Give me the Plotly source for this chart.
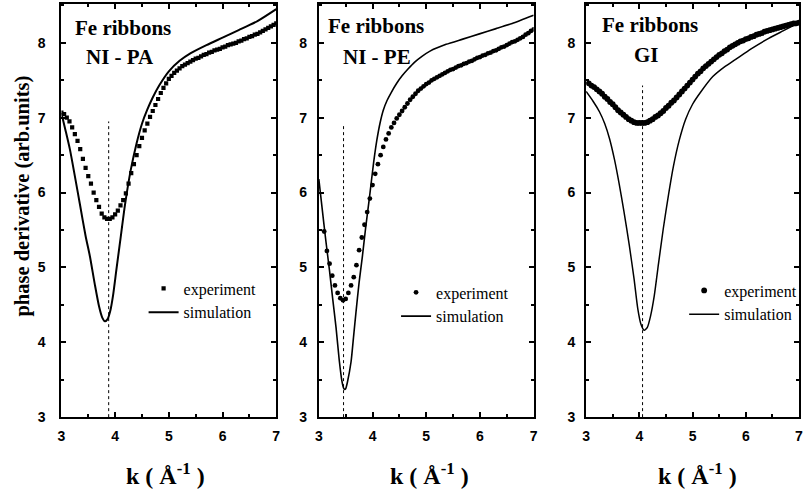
import plotly.graph_objects as go

# ---------------------------------------------------------------- data
# wave-vector grid of the measured phase-derivative curves (1/Angstrom)
k_exp = [3.00, 3.05, 3.10, 3.15, 3.20, 3.25, 3.30, 3.35, 3.40, 3.45,
         3.50, 3.55, 3.60, 3.65, 3.70, 3.75, 3.80, 3.85, 3.90, 3.95,
         4.00, 4.05, 4.10, 4.15, 4.20, 4.25, 4.30, 4.35, 4.40, 4.45,
         4.50, 4.55, 4.60, 4.65, 4.70, 4.75, 4.80, 4.85, 4.90, 4.95,
         5.00, 5.05, 5.10, 5.15, 5.20, 5.25, 5.30, 5.35, 5.40, 5.45,
         5.50, 5.55, 5.60, 5.65, 5.70, 5.75, 5.80, 5.85, 5.90, 5.95,
         6.00, 6.05, 6.10, 6.15, 6.20, 6.25, 6.30, 6.35, 6.40, 6.45,
         6.50, 6.55, 6.60, 6.65, 6.70, 6.75, 6.80, 6.85, 6.90, 6.95,
         7.00]

# NI - PA : experiment (k = 3.00 ... 7.00)
phi_exp_pa = [7.07, 7.05, 7.00, 6.95, 6.87, 6.78, 6.69, 6.58, 6.45, 6.33,
              6.22, 6.12, 6.00, 5.90, 5.81, 5.72, 5.67, 5.65, 5.65, 5.67,
              5.71, 5.76, 5.83, 5.90, 5.99, 6.12, 6.26, 6.38, 6.50, 6.62,
              6.73, 6.83, 6.92, 7.01, 7.09, 7.17, 7.25, 7.33, 7.40, 7.46,
              7.52, 7.56, 7.60, 7.63, 7.66, 7.69, 7.71, 7.73, 7.75, 7.77,
              7.79, 7.80, 7.82, 7.84, 7.85, 7.87, 7.88, 7.90, 7.91, 7.92,
              7.94, 7.95, 7.97, 7.98, 7.99, 8.00, 8.02, 8.03, 8.05, 8.06,
              8.08, 8.09, 8.11, 8.12, 8.14, 8.16, 8.18, 8.20, 8.22, 8.24,
              8.26]

# NI - PE : experiment (k = 3.10 ... 7.00)
phi_exp_pe = [5.48, 5.22, 5.05, 4.89, 4.76, 4.66, 4.59, 4.56, 4.58, 4.66,
              4.76, 4.87, 5.03, 5.23, 5.40, 5.57, 5.74, 5.92,
              6.10, 6.25, 6.38, 6.50, 6.61, 6.71, 6.79, 6.87, 6.93, 6.99,
              7.04, 7.09, 7.14, 7.19, 7.24, 7.28, 7.32, 7.36, 7.39, 7.42,
              7.45, 7.47, 7.50, 7.52, 7.54, 7.56, 7.58, 7.60, 7.62, 7.64,
              7.65, 7.67, 7.69, 7.70, 7.72, 7.73, 7.75, 7.76, 7.78, 7.80,
              7.81, 7.83, 7.84, 7.86, 7.87, 7.89, 7.90, 7.92, 7.94, 7.95,
              7.97, 7.99, 8.01, 8.02, 8.04, 8.06, 8.08, 8.11, 8.13, 8.16,
              8.18]

# GI : experiment (k = 3.05 ... 7.00)
phi_exp_gi = [7.46, 7.43, 7.41, 7.38, 7.35, 7.32, 7.28, 7.25, 7.21,
              7.18, 7.14, 7.10, 7.07, 7.04, 7.01, 6.98, 6.96, 6.94, 6.93,
              6.93, 6.93, 6.93, 6.94, 6.96, 6.98, 7.01, 7.03, 7.06, 7.09,
              7.13, 7.16, 7.20, 7.23, 7.27, 7.31, 7.35, 7.39, 7.43, 7.47,
              7.51, 7.55, 7.59, 7.62, 7.66, 7.69, 7.72, 7.75, 7.78, 7.81,
              7.84, 7.86, 7.89, 7.91, 7.94, 7.96, 7.98, 8.00, 8.02, 8.03,
              8.05, 8.06, 8.08, 8.09, 8.11, 8.12, 8.13, 8.15, 8.16, 8.17,
              8.18, 8.19, 8.20, 8.21, 8.22, 8.23, 8.24, 8.25, 8.26, 8.26,
              8.27]

# simulated curves
k_sim_pa = [3.00, 3.08, 3.16, 3.25, 3.35, 3.45, 3.53, 3.62, 3.70, 3.76,
            3.81, 3.86, 3.91, 3.96, 4.02, 4.09, 4.18, 4.29, 4.40, 4.50,
            4.60, 4.70, 4.82, 5.00, 5.20, 5.40, 5.70, 6.00, 6.30, 6.65,
            7.00]
phi_sim_pa = [7.06, 6.82, 6.57, 6.22, 5.82, 5.42, 5.15, 4.78, 4.48, 4.33,
              4.28, 4.31, 4.42, 4.62, 4.95, 5.33, 5.82, 6.30, 6.66, 6.92,
              7.11, 7.27, 7.43, 7.62, 7.76, 7.86, 7.97, 8.07, 8.17, 8.29,
              8.45]

k_sim_pe = [3.00, 3.06, 3.13, 3.20, 3.26, 3.32, 3.38, 3.43, 3.46, 3.48,
            3.50, 3.53, 3.60, 3.65, 3.69, 3.75, 3.81, 3.87, 3.94, 4.02,
            4.08, 4.14, 4.20, 4.27, 4.35, 4.45, 4.55, 4.66, 4.78, 4.92,
            5.07, 5.37, 5.68, 5.99, 6.30, 6.60, 7.00]
phi_sim_pe = [6.18, 5.80, 5.36, 4.95, 4.57, 4.20, 3.76, 3.48, 3.39, 3.37,
              3.38, 3.46, 3.74, 4.10, 4.39, 4.80, 5.14, 5.52, 5.92, 6.40,
              6.70, 6.93, 7.10, 7.23, 7.34, 7.46, 7.56, 7.65, 7.74, 7.82,
              7.89, 7.98, 8.05, 8.12, 8.19, 8.26, 8.37]

k_sim_gi = [3.00, 3.13, 3.25, 3.35, 3.44, 3.53, 3.62, 3.71, 3.81, 3.90,
            3.97, 4.03, 4.09, 4.15, 4.21, 4.28, 4.36, 4.45, 4.55, 4.64,
            4.75, 4.87, 5.00, 5.15, 5.38, 5.60, 5.81, 6.10, 6.43, 6.70,
            7.00]
phi_sim_gi = [7.35, 7.22, 7.08, 6.92, 6.72, 6.45, 6.12, 5.75, 5.30, 4.85,
              4.45, 4.24, 4.16, 4.20, 4.35, 4.62, 5.05, 5.52, 5.98, 6.35,
              6.70, 6.98, 7.18, 7.34, 7.55, 7.68, 7.78, 7.92, 8.06, 8.16,
              8.27]

# position of the minimum marked by a dotted guide, and its top end
k_mark = [3.88, 3.46, 4.06]
phi_mark_top = [6.95, 6.92, 7.43]
phi_floor = 3.0

sample_labels = ["NI - PA", "NI - PE", "GI"]

# ---------------------------------------------------------------- layout helpers
W, H = 803, 495


def px(x):
    return x / W


def py(y):
    return 1 - y / H


SERIF = "Liberation Serif"
SANS = "Liberation Sans"

x_domains = [[px(58), px(275)], [px(318), px(535)], [px(588), 1.0]]
y_domain = [py(424), py(4)]

panels = [
    dict(k=k_exp, phi=phi_exp_pa, symbol="square", msize=4.2,
         ks=k_sim_pa, phis=phi_sim_pa, lw=2.0),
    dict(k=k_exp[2:], phi=phi_exp_pe, symbol="circle", msize=4.8,
         ks=k_sim_pe, phis=phi_sim_pe, lw=1.6),
    dict(k=k_exp[1:], phi=phi_exp_gi, symbol="circle", msize=5.8,
         ks=k_sim_gi, phis=phi_sim_gi, lw=1.5),
]

legend_pos = [(141, 276), (396, 280), (687, 278)]
y_label_standoff = [11, 7, 6]

fig = go.Figure()
layout = dict(
    width=W, height=H,
    margin=dict(l=0, r=0, t=0, b=0),
    paper_bgcolor="white", plot_bgcolor="white",
    showlegend=True,
)

tick_font = dict(family=SANS, size=14, color="black", weight="bold")

for i, p in enumerate(panels):
    n = "" if i == 0 else str(i + 1)
    xa, ya = "x" + n, "y" + n
    lg = "legend" + n

    fig.add_trace(go.Scatter(
        x=p["k"], y=p["phi"], mode="markers", name="experiment",
        marker=dict(symbol=p["symbol"], size=p["msize"], color="black",
                    line=dict(width=0)),
        xaxis=xa, yaxis=ya, legend=lg, legendgroup="exp" + n,
    ))
    fig.add_trace(go.Scatter(
        x=p["ks"], y=p["phis"], mode="lines", name="simulation",
        line=dict(color="black", width=p["lw"], shape="spline", smoothing=0.6),
        xaxis=xa, yaxis=ya, legend=lg, legendgroup="sim" + n,
    ))
    fig.add_trace(go.Scatter(
        x=[k_mark[i], k_mark[i]], y=[phi_floor, phi_mark_top[i]],
        mode="lines", line=dict(color="black", width=1, dash="dot"),
        xaxis=xa, yaxis=ya, showlegend=False, hoverinfo="skip",
    ))

    axis_common = dict(
        showline=True, linewidth=2, linecolor="black", mirror="ticks",
        ticks="inside", ticklen=5, tickwidth=1.5, tickcolor="black",
        minor=dict(ticks="inside", ticklen=3, tickwidth=1.5,
                   tickcolor="black", dtick=0.5),
        showgrid=False, zeroline=False, tickfont=tick_font, dtick=1,
        tick0=3, fixedrange=True, ticklabeloverflow="allow",
    )
    layout["xaxis" + n] = dict(
        axis_common, domain=x_domains[i], range=[3, 7], anchor=ya,
        ticklabelstandoff=5,
    )
    layout["yaxis" + n] = dict(
        axis_common, domain=y_domain, range=[3, 8.52], anchor=xa,
        ticklabelstandoff=y_label_standoff[i],
    )
    lx, ly = legend_pos[i]
    layout[lg] = dict(
        x=px(lx), y=py(ly), xanchor="left", yanchor="top",
        bgcolor="rgba(0,0,0,0)", borderwidth=0,
        font=dict(family=SERIF, size=16, color="black"),
        tracegroupgap=0, itemsizing="trace",
    )

fig.update_layout(**layout)

# panel headings
title_font = dict(family=SERIF, size=21, color="black", weight="bold")
heads = [((120, 28), (117, 58)), ((376, 26), (377, 58)), ((652, 25), (649, 56))]
for (t1, t2), lab in zip(heads, sample_labels):
    fig.add_annotation(text="Fe ribbons", x=px(t1[0]), y=py(t1[1]),
                       xref="paper", yref="paper", showarrow=False,
                       xanchor="center", yanchor="middle", font=title_font)
    fig.add_annotation(text=lab, x=px(t2[0]), y=py(t2[1]),
                       xref="paper", yref="paper", showarrow=False,
                       xanchor="center", yanchor="middle", font=title_font)

# axis titles
for cx in (163, 430, 700):
    fig.add_annotation(text="k ( Å<sup>-1</sup> )", x=px(cx), y=py(482),
                       xref="paper", yref="paper", showarrow=False,
                       xanchor="center", yanchor="middle",
                       font=dict(family=SERIF, size=24, color="black",
                                 weight="bold"))

fig.add_annotation(text="phase derivative (arb.units)", x=px(19), y=py(199),
                   xref="paper", yref="paper", showarrow=False, textangle=-90,
                   xanchor="center", yanchor="middle",
                   font=dict(family=SERIF, size=20.5, color="black",
                             weight="bold"))

fig.write_html("out.html")
